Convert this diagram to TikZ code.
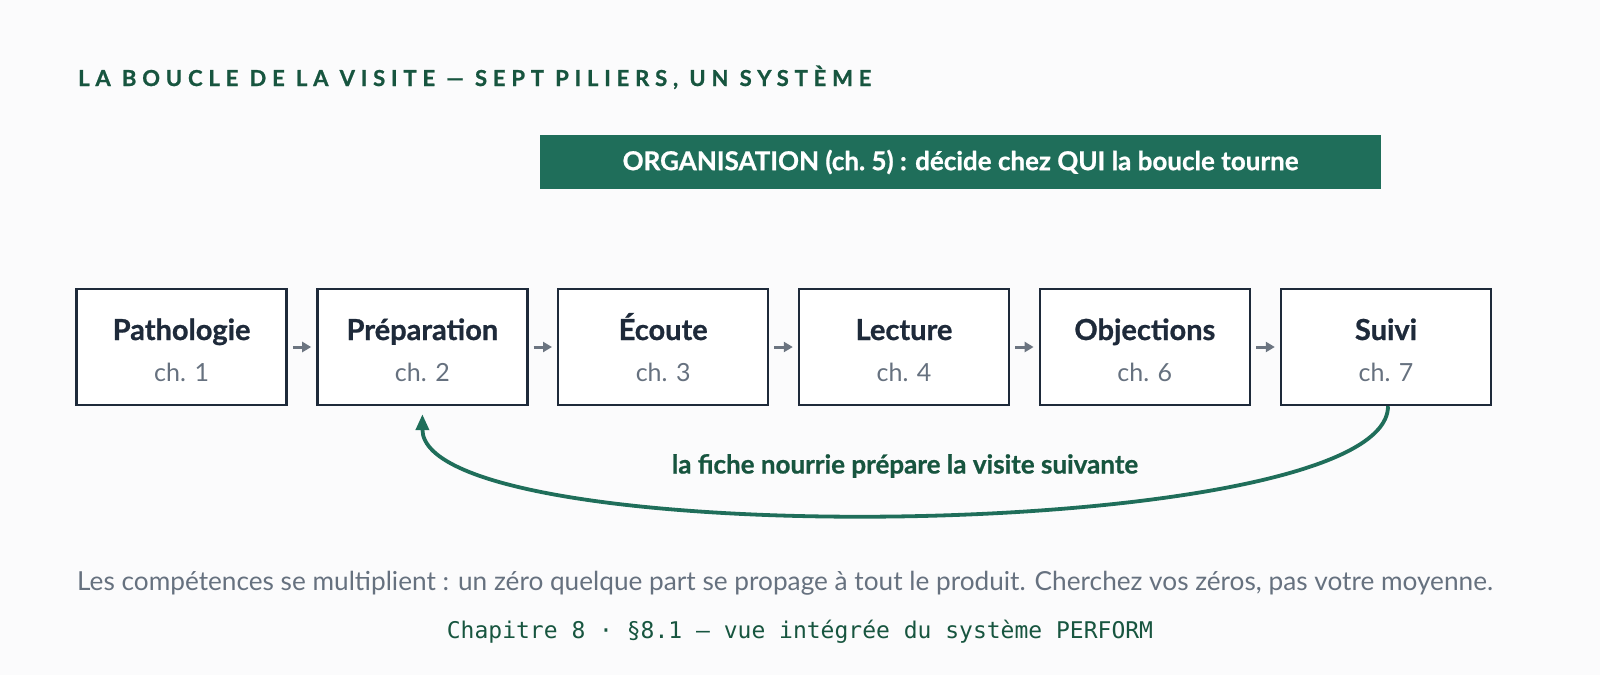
\documentclass[tikz,border=0pt]{standalone}
\usepackage{fontspec}
\setmainfont{Lato}[BoldFeatures={FakeBold=0.8}]
\newfontfamily\titlefont[LetterSpace=26.5,BoldFeatures={FakeBold=1}]{Lato}
\newfontfamily\monofont{DejaVu Sans Mono}
\usetikzlibrary{arrows.meta}
\definecolor{bg}{HTML}{FBFBFC}
\definecolor{dkgreen}{HTML}{17553F}
\definecolor{banner}{HTML}{1F6E5A}
\definecolor{navy}{HTML}{1E2A3A}
\definecolor{slate}{HTML}{66717F}
\definecolor{arrowgray}{HTML}{6B7480}
\tikzset{
  pillar/.style={draw=navy, line width=2.4pt, fill=white, minimum width=210pt, minimum height=116pt, inner sep=0pt},
  ptitle/.style={anchor=base, inner sep=0pt, text=navy, font=\fontsize{29}{32}\selectfont\bfseries},
  pch/.style={anchor=base, inner sep=0pt, text=slate, font=\fontsize{25}{28}\selectfont},
  flow/.style={draw=arrowgray, line width=3pt, -{Triangle[length=9pt,width=10pt]}},
  loop/.style={draw=banner, line width=3.8pt, -{Triangle[length=16pt,width=13pt]}},
}
\begin{document}
\begin{tikzpicture}[x=1pt,y=-1pt]
\fill[bg] (0,0) rectangle (1600,675);
\useasboundingbox (0,0) rectangle (1600,675);
\node[anchor=base west, inner sep=0pt, text=dkgreen] (title) at (78,86) {\titlefont\fontsize{22}{24}\selectfont\bfseries LA BOUCLE DE LA VISITE — SEPT PILIERS, UN SYSTÈME};
\node[fill=banner, minimum width=841pt, minimum height=54pt, inner sep=0pt, text=white] (org) at (960.5,162) {\fontsize{26}{30}\selectfont\bfseries ORGANISATION (ch.~5) : décide chez QUI la boucle tourne};
\foreach \n/\x/\t/\c in {p1/181.6/Pathologie/1, p2/422.4/Préparation/2, p3/663.2/Écoute/3, p4/904/Lecture/4, p5/1144.8/Objections/6, p6/1386/Suivi/7}{
  \node[pillar] (\n) at (\x,347) {};
  \node[ptitle] (\n t) at (\x,340) {\t};
  \node[pch] (\n c) at (\x,381) {ch. \c};
}
\foreach \a/\b in {p1/p2,p2/p3,p3/p4,p4/p5,p5/p6}{
  \draw[flow] ([xshift=5pt]\a.east) -- ([xshift=-5pt]\b.west);
}
\coordinate (tip) at ([yshift=-8pt]p2.south);
\draw[loop] ([xshift=2pt]p6.south) .. controls ([xshift=2pt,yshift=-138pt]p6.south) and ([yshift=-148pt]p2.south) .. (tip);
\node[text=dkgreen] (lbl) at (905,466) {\fontsize{26}{30}\selectfont\bfseries la fiche nourrie prépare la visite suivante};
\node[anchor=base west, inner sep=0pt, text=slate] (note) at (77,590) {\fontsize{26.2}{30}\selectfont Les compétences se multiplient : un zéro quelque part se propage à tout le produit. Cherchez vos zéros, pas votre moyenne.};
\node[text=dkgreen, inner sep=0pt] (cap) at (800,632) {\monofont\fontsize{23}{26}\selectfont Chapitre 8 · §8.1 — vue intégrée du système PERFORM};
\end{tikzpicture}
\end{document}
